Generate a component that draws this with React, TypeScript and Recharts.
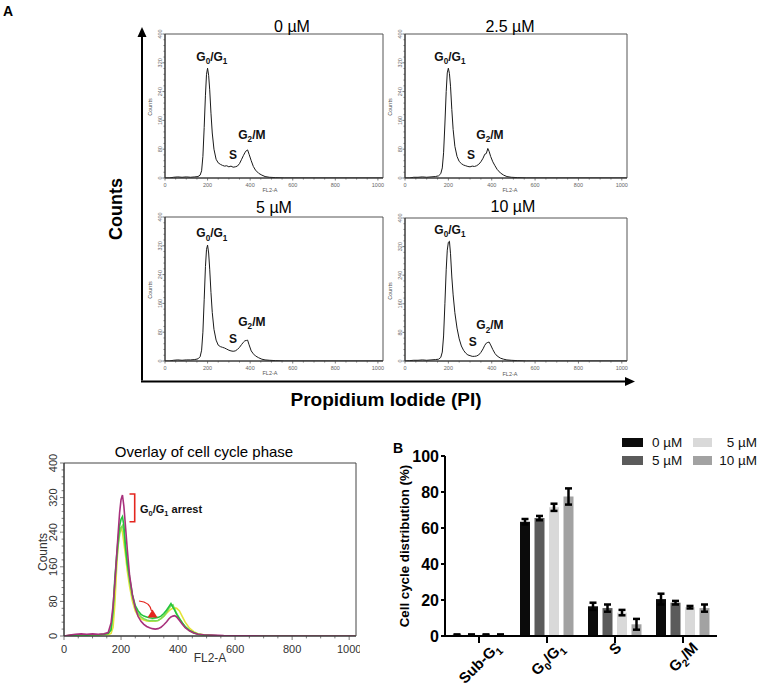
import React from 'react';
import {
  LineChart, Line, XAxis, YAxis, ReferenceArea, ReferenceDot,
  BarChart, Bar, ErrorBar,
} from 'recharts';

const FONT = '"Liberation Sans", Arial, Helvetica, sans-serif';

// FL2-A channel positions shared by every histogram
const fl2 = [0, 20, 40, 60, 80, 100, 120, 140, 155, 165, 172, 178, 184, 190, 195, 200, 205, 210, 216, 222, 230, 240, 250, 260, 270, 280, 290, 300, 310, 320, 330, 340, 350, 360, 368, 375, 382, 388, 395, 405, 415, 425, 440, 455, 470, 490, 520, 560, 700, 850, 1023];

// counts per channel
const counts0 = [0, 0, 2, 3, 2, 3, 2, 3, 4, 8, 20, 60, 140, 230, 288, 305, 285, 245, 180, 125, 80, 52, 42, 38, 35, 33, 34, 31, 33, 30, 31, 33, 40, 52, 62, 70, 76, 78, 66, 48, 32, 22, 13, 8, 4, 2, 1, 0, 0, 0, 0];
const counts25 = [0, 0, 2, 2, 3, 2, 3, 4, 6, 12, 28, 70, 150, 240, 292, 305, 290, 255, 190, 135, 88, 60, 46, 40, 36, 34, 32, 31, 33, 32, 34, 38, 45, 55, 66, 68, 82, 74, 60, 45, 34, 24, 14, 8, 4, 2, 1, 0, 0, 0, 0];
const counts5 = [0, 0, 2, 3, 2, 3, 3, 4, 6, 12, 30, 80, 170, 262, 310, 322, 300, 255, 190, 135, 88, 58, 44, 40, 38, 36, 33, 30, 28, 27, 28, 32, 38, 46, 52, 56, 57, 58, 45, 28, 20, 14, 9, 5, 3, 2, 1, 0, 0, 0, 0];
const counts10 = [0, 1, 2, 2, 3, 2, 3, 4, 5, 10, 25, 70, 160, 255, 310, 332, 335, 300, 235, 185, 135, 92, 62, 42, 30, 22, 17, 15, 13, 13, 14, 17, 24, 34, 44, 50, 52, 53, 45, 32, 21, 14, 8, 5, 3, 2, 1, 0, 0, 0, 0];

// overlay histogram traces
const overlayYellow = [0, 1, 2, 2, 3, 2, 3, 4, 3, 6, 20, 70, 150, 215, 245, 250, 240, 215, 185, 150, 115, 80, 58, 46, 40, 37, 35, 34, 34, 35, 36, 40, 46, 53, 58, 62, 64, 65, 64, 58, 45, 32, 18, 10, 5, 3, 1, 0, 0, 0, 0];
const overlayLightGreen = [0, 1, 2, 3, 2, 3, 2, 4, 6, 16, 55, 120, 170, 210, 235, 250, 255, 240, 200, 165, 128, 90, 66, 52, 44, 40, 37, 35, 36, 35, 36, 40, 46, 55, 64, 70, 72, 62, 52, 40, 30, 21, 12, 7, 4, 2, 1, 0, 0, 0, 0];
const overlayGreen = [0, 1, 2, 3, 2, 3, 3, 4, 6, 14, 60, 130, 180, 225, 255, 270, 276, 255, 205, 168, 135, 95, 70, 58, 50, 46, 44, 42, 41, 42, 43, 46, 52, 60, 68, 75, 66, 60, 50, 40, 30, 22, 13, 8, 4, 2, 1, 0, 0, 0, 0];
const overlayMagenta = [0, 2, 4, 5, 4, 5, 4, 5, 8, 30, 70, 120, 180, 238, 285, 315, 326, 300, 250, 200, 140, 95, 65, 45, 34, 27, 22, 19, 17, 16, 17, 20, 26, 33, 40, 44, 46, 47, 44, 36, 27, 19, 12, 7, 4, 3, 2, 1, 0, 0, 0];

const histXMajor = [0, 200, 400, 600, 800, 1000];
const histYMajor = [0, 80, 160, 240, 320, 400];
const histXMinor = Array.from({ length: 21 }, (_, i) => i * 50);
const histYMinor = Array.from({ length: 26 }, (_, i) => i * 16);

// bar chart (B)
const phases = ['Sub-G1', 'G0/G1', 'S', 'G2/M'];
const phaseParts = [['Sub-G', '1'], ['G', '0', '/G', '1'], ['S'], ['G', '2', '/M']];
const pct0 = [0.6, 63.5, 16.5, 20.5];
const sd0 = [0.3, 1.5, 2, 3];
const pct5 = [0.6, 65.5, 15.5, 18.5];
const sd5 = [0.3, 1.2, 2, 1];
const pct5b = [0.6, 71.5, 13, 16];
const sd5b = [0.3, 2, 1.5, 0.7];
const pct10 = [0.6, 77.5, 6.5, 15.5];
const sd10 = [0.3, 4.5, 3, 2];
const barTicks = [0, 20, 40, 60, 80, 100];

const barSeries = [
  { key: 'a', name: '0 µM', color: '#0b0b0b', values: pct0, err: sd0 },
  { key: 'b', name: '5 µM', color: '#5b5b5b', values: pct5, err: sd5 },
  { key: 'c', name: '5 µM', color: '#d9d9d9', values: pct5b, err: sd5b },
  { key: 'd', name: '10 µM', color: '#a2a2a2', values: pct10, err: sd10 },
];

const barData = phases.map((phase, i) => {
  const row: any = { phase };
  barSeries.forEach((s) => {
    row[s.key] = s.values[i];
    row[s.key + 'Err'] = s.err[i];
  });
  return row;
});

const panels = [
  { title: '0 µM', counts: counts0, px: 165, py: 34, pw: 218, ph: 144, tx: 292, ty: 31.5, g01: [220, 336], s: [319, 64], g2m: [408, 120] },
  { title: '2.5 µM', counts: counts25, px: 405, py: 34, pw: 222, ph: 144, tx: 510, ty: 31.5, g01: [207, 336], s: [304, 64], g2m: [392, 120] },
  { title: '5 µM', counts: counts5, px: 165, py: 217, pw: 218, ph: 144, tx: 274, ty: 213, g01: [220, 355], s: [319, 61], g2m: [408, 108] },
  { title: '10 µM', counts: counts10, px: 405, py: 218, pw: 222, ph: 143, tx: 513, ty: 212, g01: [207, 367], s: [313, 53], g2m: [392, 100] },
];

function PhaseText({ x, y, parts, fs, anchor = 'middle', fill = '#111' }: any) {
  const sub = fs * 0.68;
  const shift = fs * 0.28;
  return (
    <text x={x} y={y} textAnchor={anchor} fontSize={fs} fontWeight="bold" fontFamily={FONT} fill={fill}>
      {parts.map((t: string, i: number) =>
        i % 2 === 1 ? (
          <tspan key={i} fontSize={sub} dy={shift}>{t}</tspan>
        ) : (
          <tspan key={i} dy={i === 0 ? 0 : -shift}>{t}</tspan>
        )
      )}
    </text>
  );
}

function histXTick(fs: number, len: number, gap: number, color: string) {
  return (p: any) => {
    const v = p.payload.value;
    const major = histXMajor.includes(v);
    return (
      <g>
        <line x1={p.x} x2={p.x} y1={p.y} y2={p.y + (major ? len : len * 0.6)} stroke="#444" strokeWidth={0.7} />
        {major && (
          <text x={p.x} y={p.y + len + gap} textAnchor="middle" fontSize={fs} fill={color} fontFamily={FONT}>{v}</text>
        )}
      </g>
    );
  };
}

function histYTick(fs: number, len: number, gap: number, color: string) {
  return (p: any) => {
    const v = p.payload.value;
    const major = histYMajor.includes(v);
    const bx = p.x - len - gap;
    return (
      <g>
        <line x1={p.x} x2={p.x - (major ? len : len * 0.6)} y1={p.y} y2={p.y} stroke="#444" strokeWidth={0.7} />
        {major && (
          <text x={0} y={0} transform={`translate(${bx},${p.y}) rotate(-90)`} textAnchor="middle" fontSize={fs} fill={color} fontFamily={FONT}>{v}</text>
        )}
      </g>
    );
  };
}

function HistPanel({ cfg }: any) {
  const yW = 30;
  const xH = 16;
  const mt = 8;
  const mr = 4;
  const data = fl2.map((x, i) => ({ x, c: cfg.counts[i] }));
  const labels = [
    { pos: cfg.g01, parts: ['G', '0', '/G', '1'] },
    { pos: cfg.s, parts: ['S'] },
    { pos: cfg.g2m, parts: ['G', '2', '/M'] },
  ];
  return (
    <div style={{ position: 'absolute', left: cfg.px - yW, top: cfg.py - mt }}>
      <LineChart width={yW + cfg.pw + mr} height={mt + cfg.ph + xH} data={data} margin={{ top: mt, right: mr, bottom: 0, left: 0 }}>
        <XAxis type="number" dataKey="x" domain={[0, 1024]} ticks={histXMinor} interval={0} tickSize={0} tickMargin={0} tickLine={false}
          axisLine={{ stroke: '#333', strokeWidth: 1 }} tick={histXTick(5.5, 2.5, 6.5, '#666')} height={xH} allowDataOverflow />
        <YAxis type="number" domain={[0, 400]} ticks={histYMinor} interval={0} tickSize={0} tickMargin={0} tickLine={false}
          axisLine={{ stroke: '#333', strokeWidth: 1 }} tick={histYTick(5.5, 2.5, 0.5, '#666')} width={yW} allowDataOverflow />
        <ReferenceArea x1={0} x2={1024} y1={0} y2={400} fill="none" stroke="#555" strokeWidth={1} ifOverflow="visible" />
        <Line dataKey="c" type="linear" stroke="#1a1a1a" strokeWidth={1} dot={false} isAnimationActive={false} />
        {labels.map((l, i) => (
          <ReferenceDot key={i} x={l.pos[0]} y={l.pos[1]} r={0} ifOverflow="visible"
            shape={(p: any) => <PhaseText x={p.cx} y={p.cy + 4} parts={l.parts} fs={12} />} />
        ))}
      </LineChart>
    </div>
  );
}

const overlayTraces = [
  { key: 'yellow', color: '#e4e43a', values: overlayYellow },
  { key: 'light', color: '#7ddc55', values: overlayLightGreen },
  { key: 'green', color: '#22c43c', values: overlayGreen },
  { key: 'magenta', color: '#a8307c', values: overlayMagenta },
];

const overlayData = fl2.map((x, i) => {
  const row: any = { x };
  overlayTraces.forEach((t) => { row[t.key] = t.values[i]; });
  return row;
});

function OverlayPanel() {
  const px = 64, py = 463, pw = 292, ph = 173;
  const yW = 40, xH = 24, mt = 14, mr = 4;
  return (
    <div style={{ position: 'absolute', left: px - yW, top: py - mt }}>
      <LineChart width={yW + pw + mr} height={mt + ph + xH} data={overlayData} margin={{ top: mt, right: mr, bottom: 0, left: 0 }}>
        <XAxis type="number" dataKey="x" domain={[0, 1024]} ticks={histXMinor} interval={0} tickSize={0} tickMargin={0} tickLine={false}
          axisLine={{ stroke: '#333', strokeWidth: 1 }} tick={histXTick(11, 4, 13, '#333')} height={xH} allowDataOverflow />
        <YAxis type="number" domain={[0, 400]} ticks={histYMinor} interval={0} tickSize={0} tickMargin={0} tickLine={false}
          axisLine={{ stroke: '#333', strokeWidth: 1 }} tick={histYTick(11, 4, 3, '#333')} width={yW} allowDataOverflow />
        <ReferenceArea x1={0} x2={1024} y1={0} y2={400} fill="none" stroke="#444" strokeWidth={1} ifOverflow="visible" />
        {overlayTraces.map((t) => (
          <Line key={t.key} dataKey={t.key} type="linear" stroke={t.color} strokeWidth={1.6} dot={false} isAnimationActive={false} />
        ))}
      </LineChart>
    </div>
  );
}

const charW: Record<string, number> = { G: 0.78, S: 0.67, M: 0.83, u: 0.61, b: 0.61, '-': 0.33, '/': 0.28 };

function PhaseTick(p: any) {
  const idx = phases.indexOf(p.payload.value);
  const parts = phaseParts[idx];
  const fs = 15;
  let L = 0;
  parts.forEach((t, i) => {
    const size = i % 2 === 1 ? fs * 0.68 : fs;
    for (const ch of t) L += (charW[ch] ?? 0.56) * size;
  });
  const cap = 11;
  const ex = p.x + 0.354 * (L + cap);
  const ey = p.y + 0.707 * cap - 4;
  return (
    <g transform={`translate(${ex},${ey}) rotate(-45)`}>
      <PhaseText x={0} y={0} parts={parts} fs={fs} anchor="end" fill="#000" />
    </g>
  );
}

function CycleBars() {
  const px = 445, py = 456, pw = 272, ph = 180;
  const yW = 45, xH = 52, mt = 12, mr = 10;
  return (
    <div style={{ position: 'absolute', left: px - yW, top: py - mt }}>
      <BarChart width={yW + pw + mr} height={mt + ph + xH} data={barData} margin={{ top: mt, right: mr, bottom: 0, left: 0 }} barSize={10} barGap={4.5}>
        <XAxis dataKey="phase" height={xH} interval={0} axisLine={{ stroke: '#000', strokeWidth: 2 }} tickLine={{ stroke: '#000', strokeWidth: 2 }}
          tickSize={7} tickMargin={2} tick={PhaseTick} />
        <YAxis type="number" domain={[0, 100]} ticks={barTicks} interval={0} width={yW} axisLine={{ stroke: '#000', strokeWidth: 2 }}
          tickLine={{ stroke: '#000', strokeWidth: 2 }} tickSize={4} tickMargin={2}
          tick={{ fontSize: 16, fontWeight: 'bold', fill: '#000', fontFamily: FONT }} />
        {barSeries.map((s) => (
          <Bar key={s.key} dataKey={s.key} fill={s.color} isAnimationActive={false}>
            <ErrorBar dataKey={s.key + 'Err'} width={3.5} strokeWidth={2.5} stroke="#000" direction="y" />
          </Bar>
        ))}
      </BarChart>
    </div>
  );
}

function BarLegend() {
  const cells = [
    { s: barSeries[0], swX: 622, swW: 21, textX: 652, row: 0, right: false },
    { s: barSeries[1], swX: 622, swW: 21, textX: 652, row: 1, right: false },
    { s: barSeries[2], swX: 693, swW: 19, textX: 757, row: 0, right: true },
    { s: barSeries[3], swX: 693, swW: 19, textX: 757, row: 1, right: true },
  ];
  const rowY = [442.5, 460.5];
  return (
    <>
      {cells.map((c, i) => (
        <React.Fragment key={i}>
          <div style={{ position: 'absolute', left: c.swX, top: rowY[c.row] - 4.5, width: c.swW, height: 9, background: c.s.color }} />
          <div style={{
            position: 'absolute', top: rowY[c.row] - 9, height: 18, lineHeight: '18px', fontSize: 13.5, fontFamily: FONT, color: '#111',
            whiteSpace: 'nowrap', ...(c.right ? { right: 759 - c.textX } : { left: c.textX }),
          }}>{c.s.name}</div>
        </React.Fragment>
      ))}
    </>
  );
}

function Annotations() {
  const red = '#e4261f';
  return (
    <svg width={759} height={688} style={{ position: 'absolute', left: 0, top: 0, pointerEvents: 'none' }} fontFamily={FONT}>
      <text x={3} y={15.5} fontSize={14} fontWeight="bold">A</text>
      <text x={393} y={452.5} fontSize={14} fontWeight="bold">B</text>

      {/* panel A axes */}
      <line x1={142} y1={380.5} x2={142} y2={35} stroke="#000" strokeWidth={2} />
      <polygon points="142,27 137.5,37 146.5,37" fill="#000" />
      <line x1={141} y1={381.5} x2={626} y2={381.5} stroke="#000" strokeWidth={2} />
      <polygon points="635,381.5 625,377 625,386" fill="#000" />
      <text transform="translate(122,209) rotate(-90)" textAnchor="middle" fontSize={18} fontWeight="bold">Counts</text>
      <text x={386} y={406} textAnchor="middle" fontSize={19} fontWeight="bold">Propidium Iodide (PI)</text>

      {panels.map((p, i) => (
        <g key={i}>
          <text x={p.tx} y={p.ty} textAnchor="middle" fontSize={16}>{p.title}</text>
          <text transform={`translate(${p.px - 13},${p.py + 73}) rotate(-90)`} textAnchor="middle" fontSize={5.5} fill="#555">Counts</text>
          <text x={p.px + 105} y={p.py + 158} textAnchor="middle" fontSize={5.5} fill="#555">FL2-A</text>
        </g>
      ))}

      {/* overlay panel */}
      <text x={204} y={457} textAnchor="middle" fontSize={15}>Overlay of cell cycle phase</text>
      <text transform="translate(47,552) rotate(-90)" textAnchor="middle" fontSize={12} fill="#333">Counts</text>
      <text x={210} y={662} textAnchor="middle" fontSize={12} fill="#333">FL2-A</text>
      <polyline points="129.5,494 134.7,494 134.7,521.7 129.5,521.7" fill="none" stroke={red} strokeWidth={1.6} />
      <PhaseText x={140} y={513} parts={['G', '0', '/G', '1', ' arrest']} fs={11} anchor="start" />
      <path d="M139,601 Q150,602 151.5,611" fill="none" stroke={red} strokeWidth={1.2} />
      <polygon points="152.5,609.5 147.5,617.5 157.5,617.5" fill={red} />

      {/* bar chart y title */}
      <text transform="translate(409,546) rotate(-90)" textAnchor="middle" fontSize={13.3} fontWeight="bold">Cell cycle distribution (%)</text>
    </svg>
  );
}

export default function App() {
  return (
    <div style={{ position: 'absolute', left: 0, top: 0, width: 759, height: 688, background: '#fff', fontFamily: FONT, overflow: 'hidden' }}>
      {panels.map((p, i) => <HistPanel key={i} cfg={p} />)}
      <OverlayPanel />
      <CycleBars />
      <BarLegend />
      <Annotations />
    </div>
  );
}
